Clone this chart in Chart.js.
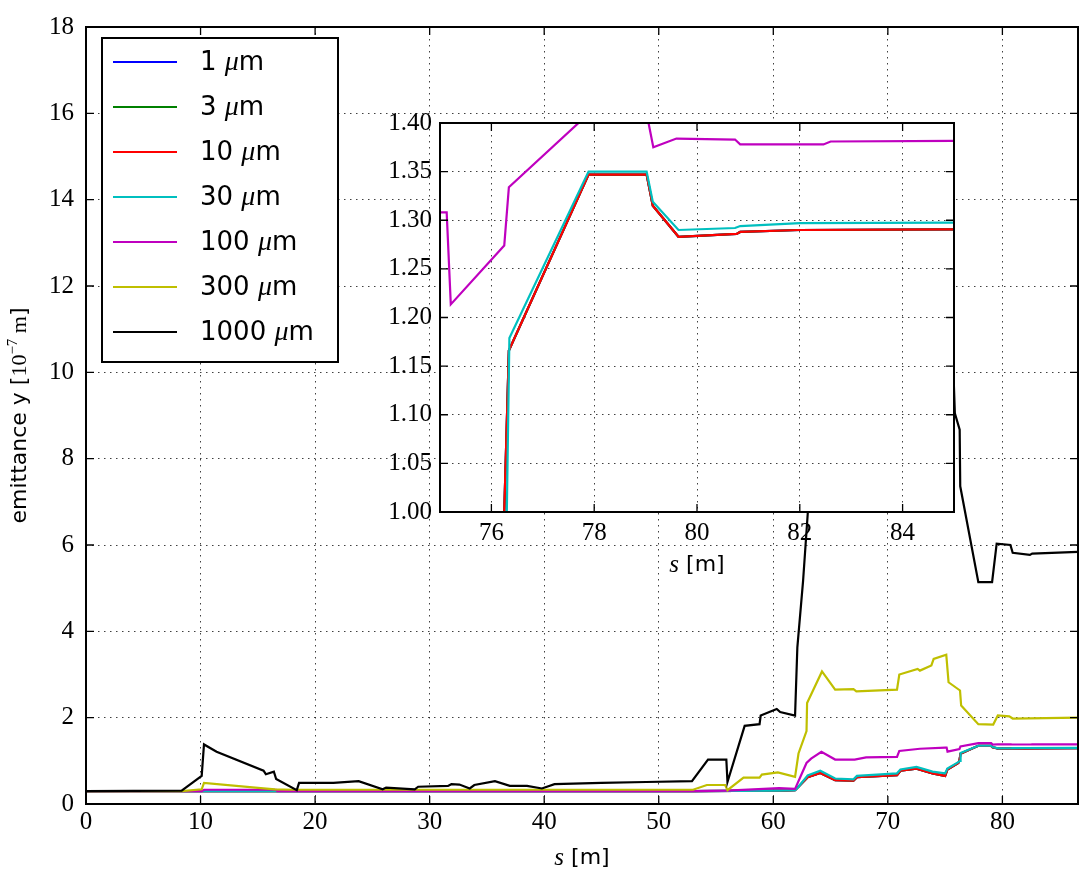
<!DOCTYPE html>
<html>
<head>
<meta charset="utf-8">
<script src="https://cdn.jsdelivr.net/npm/chart.js@4.4.1/dist/chart.umd.min.js"></script>
<style>
  html, body { margin: 0; padding: 0; background: #fff; }
  #wrap { position: relative; width: 1079px; height: 875px; }
  #mainCanvas { position: absolute; left: 0; top: 0; }
  #insetCanvas { position: absolute; left: 380px; top: 100px; }
</style>
</head>
<body>
<div id="wrap">
  <canvas id="mainCanvas" width="1079" height="875"></canvas>
  <canvas id="insetCanvas" width="590" height="490"></canvas>
</div>
<script>
// emittance y [1e-7 m] along s [m], one series per size
const sizeLabels = ['1', '3', '10', '30', '100', '300', '1000'];
const lineColors = ['#0000ff', '#008000', '#ff0000', '#00bfbf', '#bf00bf', '#bfbf00', '#000000'];

// 1, 3 and 10 um lie on top of each other
const sFine = [0, 53.0, 60.5, 61.9, 62.2, 63.0, 64.1, 65.4, 67.0, 67.3, 70.8, 71.1, 72.5, 73.9, 75.0, 75.2, 76.15, 76.25, 76.34, 77.89, 79.02, 79.14, 79.64, 80.77, 80.84, 82.0, 86.6];
const eFine = [0.3, 0.3, 0.31, 0.32, 0.40, 0.62, 0.72, 0.55, 0.54, 0.62, 0.67, 0.77, 0.82, 0.71, 0.65, 0.80, 0.95, 1.0, 1.166, 1.347, 1.347, 1.315, 1.283, 1.286, 1.288, 1.290, 1.291];

const s30 = [0, 53.0, 60.5, 61.9, 62.2, 63.0, 64.1, 65.4, 67.0, 67.3, 70.8, 71.1, 72.5, 73.9, 75.0, 75.2, 76.15, 76.3, 76.35, 77.89, 79.02, 79.14, 79.64, 80.74, 80.84, 82.0, 86.6];
const e30 = [0.3, 0.3, 0.31, 0.32, 0.40, 0.66, 0.77, 0.59, 0.57, 0.65, 0.71, 0.80, 0.86, 0.75, 0.71, 0.82, 0.97, 1.0, 1.179, 1.350, 1.350, 1.319, 1.290, 1.292, 1.294, 1.297, 1.298];

const s100 = [0, 10.1, 10.3, 16.6, 16.7, 53.0, 56.0, 60.5, 61.9, 62.9, 63.3, 64.2, 65.4, 67.1, 68.1, 70.8, 71.0, 72.8, 75.01, 75.13, 75.21, 76.25, 76.34, 77.9, 79.02, 79.15, 79.6, 80.74, 80.84, 82.46, 82.6, 86.6];
const e100 = [0.3, 0.3, 0.33, 0.33, 0.3, 0.3, 0.31, 0.37, 0.35, 0.95, 1.05, 1.21, 1.03, 1.03, 1.08, 1.09, 1.23, 1.28, 1.308, 1.308, 1.2135, 1.274, 1.334, 1.41, 1.41, 1.375, 1.384, 1.383, 1.378, 1.378, 1.381, 1.382];

const s300 = [0, 8.4, 10.1, 10.3, 15.5, 16.5, 18.0, 53.0, 54.2, 55.8, 56.0, 57.4, 58.8, 59.0, 60.4, 61.9, 62.2, 62.9, 62.95, 64.25, 65.4, 67.0, 67.25, 70.8, 71.0, 72.6, 72.8, 73.8, 74.0, 75.1, 75.3, 76.3, 76.4, 77.9, 79.2, 79.6, 80.6, 80.9, 86.6];
const e300 = [0.3, 0.3, 0.34, 0.49, 0.36, 0.34, 0.33, 0.33, 0.44, 0.44, 0.32, 0.61, 0.61, 0.68, 0.73, 0.63, 1.17, 1.69, 2.34, 3.07, 2.65, 2.66, 2.61, 2.65, 3.0, 3.13, 3.09, 3.21, 3.36, 3.46, 2.82, 2.63, 2.28, 1.85, 1.84, 2.05, 2.03, 1.98, 2.0];

const s1000 = [0, 8.35, 10.1, 10.3, 11.4, 15.5, 15.7, 16.4, 16.6, 18.4, 18.6, 21.6, 23.8, 25.9, 26.2, 28.7, 29.0, 31.6, 31.9, 32.6, 33.5, 33.9, 35.7, 37.0, 38.5, 39.8, 40.9, 45.0, 48.9, 52.9, 54.3, 55.9, 56.0, 57.5, 58.8, 58.9, 60.3, 60.6, 61.9, 62.1, 62.6, 63.0, 63.4, 66, 70, 75.7, 75.85, 76.27, 76.32, 77.9, 79.1, 79.5, 80.7, 80.9, 82.4, 82.6, 86.6];
const e1000 = [0.3, 0.31, 0.65, 1.38, 1.21, 0.77, 0.69, 0.75, 0.58, 0.32, 0.49, 0.49, 0.53, 0.34, 0.38, 0.34, 0.40, 0.42, 0.46, 0.45, 0.36, 0.44, 0.53, 0.42, 0.42, 0.36, 0.46, 0.49, 0.51, 0.53, 1.03, 1.03, 0.51, 1.81, 1.85, 2.05, 2.2, 2.13, 2.05, 3.63, 5.17, 6.7, 8.5, 10.0, 10.6, 10.2, 9.05, 8.67, 7.36, 5.14, 5.14, 6.03, 6.0, 5.82, 5.77, 5.8, 5.84];

const xTicksMain = [0, 10, 20, 30, 40, 50, 60, 70, 80];
const yTicksMain = [0, 2, 4, 6, 8, 10, 12, 14, 16, 18];
const xTicksInset = [76, 78, 80, 82, 84];
const yTicksInset = [1.00, 1.05, 1.10, 1.15, 1.20, 1.25, 1.30, 1.35, 1.40];

const seriesS = [sFine, sFine, sFine, s30, s100, s300, s1000];
const seriesE = [eFine, eFine, eFine, e30, e100, e300, e1000];

const SERIF = '"Liberation Serif", "Times New Roman", serif';
const SANS = '"DejaVu Sans", sans-serif';

const makeDatasets = () => sizeLabels.map((lab, i) => ({
    label: lab,
    data: seriesS[i].map((x, k) => ({ x: x, y: seriesE[i][k] })),
    borderColor: lineColors[i],
    borderWidth: 2.2,
    pointRadius: 0,
    fill: false,
    tension: 0,
    order: sizeLabels.length - 1 - i
}));

// draw several text pieces with different fonts one after another
const drawRuns = (ctx, runs, x, y) => {
    let w = 0;
    runs.forEach(r => { ctx.font = r.font; w += ctx.measureText(r.text).width; });
    let cx = x - w / 2;
    ctx.textAlign = 'left';
    ctx.textBaseline = 'middle';
    runs.forEach(r => {
        ctx.font = r.font;
        ctx.fillText(r.text, cx, y + (r.dy || 0));
        cx += ctx.measureText(r.text).width;
    });
};

const sTitle = [
    { text: 's', font: 'italic 25px ' + SERIF },
    { text: ' [m]', font: '22px ' + SANS }
];

// box and inward tick marks on all four sides
const framePlugin = {
    id: 'frame',
    afterDraw(chart, args, opts) {
        const { ctx, chartArea: a, scales } = chart;
        const len = opts.tick || 8;
        ctx.save();
        ctx.strokeStyle = '#000';
        ctx.lineWidth = 1.3;
        ctx.beginPath();
        scales.x.ticks.forEach(t => {
            const px = scales.x.getPixelForValue(t.value);
            ctx.moveTo(px, a.bottom); ctx.lineTo(px, a.bottom - len);
            ctx.moveTo(px, a.top); ctx.lineTo(px, a.top + len);
        });
        scales.y.ticks.forEach(t => {
            const py = scales.y.getPixelForValue(t.value);
            ctx.moveTo(a.left, py); ctx.lineTo(a.left + len, py);
            ctx.moveTo(a.right, py); ctx.lineTo(a.right - len, py);
        });
        ctx.stroke();
        ctx.lineWidth = 2;
        ctx.strokeRect(a.left, a.top, a.right - a.left, a.bottom - a.top);
        ctx.restore();
    }
};

const mainDecor = {
    id: 'mainDecor',
    afterDraw(chart) {
        const ctx = chart.ctx;
        const a = chart.chartArea;
        ctx.save();
        ctx.fillStyle = '#000';
        drawRuns(ctx, sTitle, (a.left + a.right) / 2, 858);

        ctx.save();
        ctx.translate(20, (a.top + a.bottom) / 2);
        ctx.rotate(-Math.PI / 2);
        drawRuns(ctx, [
            { text: 'emittance y [', font: '22px ' + SANS },
            { text: '10', font: '22px ' + SERIF },
            { text: '\u22127', font: '15px ' + SERIF, dy: -7 },
            { text: ' m', font: '22px ' + SERIF },
            { text: ']', font: '22px ' + SANS }
        ], 0, 0);
        ctx.restore();

        // legend
        const lx = 102, ly = 38, lw = 236, lh = 324;
        ctx.fillStyle = '#fff';
        ctx.fillRect(lx, ly, lw, lh);
        ctx.strokeStyle = '#000';
        ctx.lineWidth = 2;
        ctx.strokeRect(lx, ly, lw, lh);
        chart.data.datasets.forEach((ds, i) => {
            const ry = 62 + i * 45;
            ctx.strokeStyle = ds.borderColor;
            ctx.lineWidth = 2;
            ctx.beginPath();
            ctx.moveTo(113, ry);
            ctx.lineTo(177, ry);
            ctx.stroke();
            ctx.fillStyle = '#000';
            const runs = [
                { text: ds.label + ' ', font: '26px ' + SANS },
                { text: '\u03bc', font: 'italic 28px ' + SERIF },
                { text: 'm', font: '26px ' + SANS }
            ];
            let w = 0;
            runs.forEach(r => { ctx.font = r.font; w += ctx.measureText(r.text).width; });
            drawRuns(ctx, runs, 200 + w / 2, ry + 1);
        });
        ctx.restore();
    }
};

const insetDecor = {
    id: 'insetDecor',
    beforeDraw(chart) {
        const a = chart.chartArea;
        chart.ctx.save();
        chart.ctx.fillStyle = '#fff';
        chart.ctx.fillRect(a.left, a.top, a.right - a.left, a.bottom - a.top);
        chart.ctx.restore();
    },
    afterDraw(chart) {
        const a = chart.chartArea;
        chart.ctx.save();
        chart.ctx.fillStyle = '#000';
        drawRuns(chart.ctx, sTitle, (a.left + a.right) / 2, 465);
        chart.ctx.restore();
    }
};

const gridOpts = { color: 'rgba(0,0,0,0.75)', lineWidth: 1, drawTicks: false };
const borderOpts = { display: false, dash: [1.5, 4.5] };
const tickFont = { family: SERIF, size: 25 };

const axisOpts = (min, max, ticks, fit, pad, cb) => ({
    type: 'linear',
    min: min,
    max: max,
    afterBuildTicks: sc => { sc.ticks = ticks.map(v => ({ value: v })); },
    afterFit: fit,
    grid: gridOpts,
    border: borderOpts,
    ticks: { font: tickFont, color: '#000', padding: pad, maxRotation: 0, autoSkip: false, callback: cb }
});

new Chart(document.getElementById('mainCanvas'), {
    type: 'line',
    data: { datasets: makeDatasets() },
    options: {
        responsive: false,
        animation: false,
        events: [],
        layout: { padding: { left: 0, right: 1, top: 23, bottom: 0 } },
        plugins: { legend: { display: false }, tooltip: { enabled: false }, frame: { tick: 8 } },
        scales: {
            x: axisOpts(0, 86.6, xTicksMain, sc => { sc.height = 71; }, 3, v => String(v)),
            y: axisOpts(0, 18, yTicksMain, sc => { sc.width = 86; }, 12, v => String(v))
        }
    },
    plugins: [framePlugin, mainDecor]
});

new Chart(document.getElementById('insetCanvas'), {
    type: 'line',
    data: { datasets: makeDatasets() },
    options: {
        responsive: false,
        animation: false,
        events: [],
        layout: { padding: { left: 0, right: 16, top: 21, bottom: 0 } },
        plugins: { legend: { display: false }, tooltip: { enabled: false }, frame: { tick: 8 } },
        scales: {
            x: axisOpts(75, 85, xTicksInset, sc => { sc.height = 78; }, 6, v => String(v)),
            y: axisOpts(1.0, 1.4, yTicksInset, sc => { sc.width = 60; }, 8, v => v.toFixed(2))
        }
    },
    plugins: [insetDecor, framePlugin]
});
</script>
</body>
</html>
